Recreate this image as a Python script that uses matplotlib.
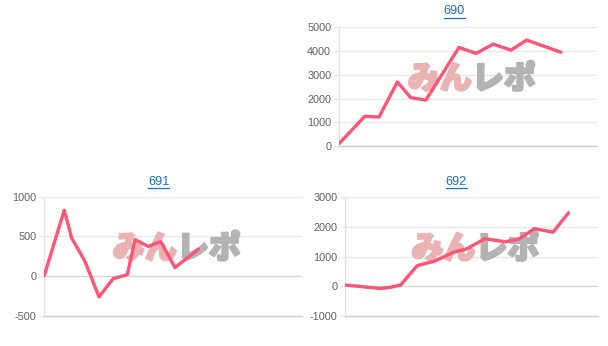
import matplotlib
matplotlib.use("Agg")
import matplotlib.pyplot as plt
from matplotlib.lines import Line2D
import matplotlib.patheffects as pe

# Machine numbers shown as panel titles
machines = ["690", "691", "692"]

# Games played at each recorded point, and the coin difference at that point
games_690 = [0, 800, 1240, 1810, 2220, 2690, 3720, 4250, 4780, 5330, 5820, 6880]
diff_690 = [100, 1250, 1220, 2700, 2040, 1930, 4150, 3900, 4290, 4040, 4460, 3950]

games_691 = [0, 620, 850, 1260, 1700, 2140, 2580, 2820, 3230, 3620, 4060, 4790]
diff_691 = [10, 830, 480, 190, -260, -30, 20, 460, 375, 435, 110, 340]

games_692 = [0, 660, 1100, 1400, 1760, 2280, 2800, 3440, 3840, 4420, 5060, 5480,
             5980, 6570, 7060]
diff_692 = [50, -20, -65, -35, 50, 700, 840, 1150, 1260, 1600, 1500, 1580,
            1940, 1820, 2470]

# Y-axis tick values per panel
yticks_690 = [0, 1000, 2000, 3000, 4000, 5000]
yticks_691 = [-500, 0, 500, 1000]
yticks_692 = [-1000, 0, 1000, 2000, 3000]

GAMES_MAX = 8000
W, H = 608, 346
LINE_COLOR = "#ff5473"
GRID_COLOR = "#e9e9e9"
ZERO_COLOR = "#d6d6d6"
LINK_COLOR = "#1a6fd1"
CJK = ["Noto Sans CJK JP", "DejaVu Sans"]

fig = plt.figure(figsize=(W / 100, H / 100), dpi=100)
fig.patch.set_facecolor("white")


def px_axes(left, top, right, bottom):
    """Axes placed by pixel edges measured from the top-left corner."""
    return fig.add_axes([left / W, 1 - bottom / H, (right - left) / W, (bottom - top) / H])


def watermark(ax):
    for txt, col, ha in (("みん", "#eab3b3", "right"), ("レポ", "#b3b3b3", "left")):
        ax.text(0.515, 0.565, txt, transform=ax.transAxes, ha=ha, va="center",
                fontsize=23, fontweight="heavy", color=col, family=CJK, zorder=1,
                path_effects=[pe.withStroke(linewidth=1.6, foreground=col)])


def panel(ax, games, diff, ticks):
    ax.set_xlim(0, GAMES_MAX)
    ax.set_ylim(ticks[0], ticks[-1])
    ax.set_yticks(ticks)
    ax.set_yticklabels([str(t) for t in ticks])
    ax.set_xticks([])
    for t in ticks:
        ax.axhline(t, color=ZERO_COLOR if t == 0 else GRID_COLOR, lw=1.0, zorder=0)
    for s in ("top", "right"):
        ax.spines[s].set_visible(False)
    ax.spines["left"].set_color("#e3e3e3")
    ax.spines["bottom"].set_color("#d0d0d0")
    ax.spines["left"].set_linewidth(1.0)
    ax.spines["bottom"].set_linewidth(1.0)
    ax.tick_params(axis="y", length=3.6, width=1.0, color=GRID_COLOR, pad=2,
                   labelsize=7.8, labelcolor="#626262")
    for lab in ax.get_yticklabels():
        lab.set_family("Liberation Sans")
    watermark(ax)
    ax.plot(games, diff, color=LINE_COLOR, lw=2.4, solid_joinstyle="round",
            solid_capstyle="round", zorder=3)


def link_title(text, cx, cy):
    t = fig.text(cx / W, 1 - cy / H, text, ha="center", va="center",
                 fontsize=9.2, color=LINK_COLOR, family="Liberation Sans")
    half = 10.5
    fig.add_artist(Line2D([(cx - half) / W, (cx + half) / W],
                          [1 - (cy + 6) / H, 1 - (cy + 6) / H],
                          color=LINK_COLOR, lw=0.9))
    return t


ax690 = px_axes(339, 27.3, 597, 146)
panel(ax690, games_690, diff_690, yticks_690)
link_title(machines[0], 454, 11.5)

ax691 = px_axes(44.3, 196.7, 301.7, 316)
panel(ax691, games_691, diff_691, yticks_691)
link_title(machines[1], 158.5, 182)

ax692 = px_axes(345, 197, 598.3, 316.3)
panel(ax692, games_692, diff_692, yticks_692)
link_title(machines[2], 456, 182)

fig.savefig("out.png", dpi=100, facecolor="white")
